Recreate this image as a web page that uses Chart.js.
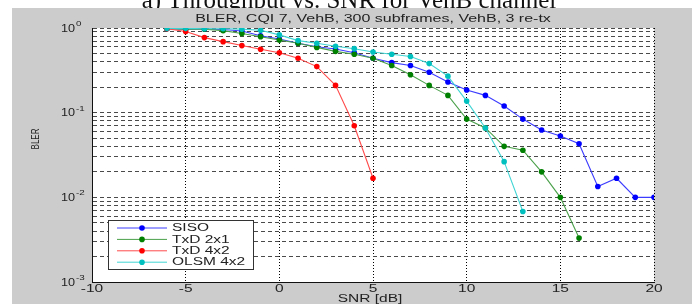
<!DOCTYPE html>
<html>
<head>
<meta charset="utf-8">
<script src="https://cdn.jsdelivr.net/npm/chart.js@4.4.1/dist/chart.umd.min.js"></script>
<style>
  html, body { margin: 0; padding: 0; background: #fff; }
  #blerChart { display: block; }
</style>
</head>
<body>
<canvas id="blerChart" width="699" height="304"></canvas>
<script>
// data
const pageCaption = 'a) Throughput vs. SNR for VehB channel';
const plotTitle = 'BLER, CQI 7, VehB, 300 subframes, VehB, 3 re-tx';
const xTitle = 'SNR [dB]';
const yTitle = 'BLER';

const seriesNames = ['SISO', 'TxD 2x1', 'TxD 4x2', 'OLSM 4x2'];

const snrSiso = [-6, -5, -4, -3, -2, -1, 0, 1, 2, 3, 4, 5, 6, 7, 8, 9, 10, 11, 12, 13, 14, 15, 16, 17, 18, 19, 20];
const blerSiso = [0.98, 0.97, 0.97, 0.96, 0.92, 0.81, 0.74, 0.66, 0.60, 0.565, 0.51, 0.44, 0.39, 0.36, 0.30, 0.23, 0.185, 0.16, 0.12, 0.084, 0.0625, 0.053, 0.043, 0.0134, 0.0168, 0.010, 0.010];

const snrTxd2 = [-6, -5, -4, -3, -2, -1, 0, 1, 2, 3, 4, 5, 6, 7, 8, 9, 10, 11, 12, 13, 14, 15, 16];
const blerTxd2 = [0.98, 0.97, 0.97, 0.93, 0.86, 0.79, 0.72, 0.66, 0.59, 0.53, 0.49, 0.44, 0.36, 0.28, 0.21, 0.16, 0.084, 0.066, 0.040, 0.036, 0.020, 0.010, 0.0033];

const snrTxd4 = [-6, -5, -4, -3, -2, -1, 0, 1, 2, 3, 4, 5];
const blerTxd4 = [0.98, 0.91, 0.77, 0.69, 0.62, 0.56, 0.51, 0.44, 0.35, 0.21, 0.07, 0.0168];

const snrOlsm = [-6, -5, -4, -3, -2, -1, 0, 1, 2, 3, 4, 5, 6, 7, 8, 9, 10, 11, 12, 13];
const blerOlsm = [0.99, 0.99, 0.98, 0.98, 0.97, 0.94, 0.83, 0.71, 0.66, 0.61, 0.57, 0.52, 0.49, 0.46, 0.38, 0.27, 0.137, 0.066, 0.0264, 0.0068];

const xTicks = [-10, -5, 0, 5, 10, 15, 20];
const yMajorTicks = [1, 0.1, 0.01, 0.001];
const yMajorExps = ['0', '-1', '-2', '-3'];
const yMinorSteps = [2, 3, 4, 5, 6, 7, 8, 9];

const markerColors = ['#0000ff', '#008000', '#ff0000', '#00bfbf'];
const lineColors = ['#3c3cff', '#4aa04a', '#ff4a4a', '#40d4d4'];

const toPoints = (xs, ys) => xs.map((x, i) => ({ x: x, y: ys[i] }));

const allSeries = [
    toPoints(snrSiso, blerSiso),
    toPoints(snrTxd2, blerTxd2),
    toPoints(snrTxd4, blerTxd4),
    toPoints(snrOlsm, blerOlsm)
];

// y grid: every 1..9 x 10^k
const yGridValues = [];
yMajorTicks.forEach(m => {
    yGridValues.push(m);
    if (m < 1) yMinorSteps.forEach(s => yGridValues.push(m * s));
});

const stretchText = (ctx, txt, x, y, sx, align) => {
    ctx.save();
    ctx.translate(x, y);
    ctx.scale(sx, 1);
    ctx.textAlign = align;
    ctx.fillText(txt, 0, 0);
    ctx.restore();
};

const figurePlugin = {
    id: 'figure',
    beforeDraw(chart) {
        const ctx = chart.ctx;
        const a = chart.chartArea;
        ctx.save();
        ctx.fillStyle = '#fff';
        ctx.fillRect(0, 0, chart.width, chart.height);
        // caption of the page, mostly hidden behind the figure
        ctx.fillStyle = '#111';
        ctx.font = '25px "Liberation Serif"';
        ctx.textAlign = 'center';
        ctx.textBaseline = 'alphabetic';
        ctx.fillText(pageCaption, 349, 8);
        ctx.fillStyle = '#cccccc';
        ctx.fillRect(12, 8, 680, chart.height - 8);
        ctx.fillStyle = '#fff';
        ctx.fillRect(a.left, a.top, a.right - a.left, a.bottom - a.top);
        ctx.restore();
    },
    afterDraw(chart) {
        const ctx = chart.ctx;
        const a = chart.chartArea;
        const xs = chart.scales.x;
        const ys = chart.scales.y;
        ctx.save();

        // solid left and bottom axes
        ctx.strokeStyle = '#111';
        ctx.lineWidth = 1;
        ctx.setLineDash([]);
        ctx.beginPath();
        ctx.moveTo(Math.round(a.left) + 0.5, a.top);
        ctx.lineTo(Math.round(a.left) + 0.5, Math.round(a.bottom) + 0.5);
        ctx.lineTo(a.right + 0.5, Math.round(a.bottom) + 0.5);
        ctx.stroke();

        ctx.fillStyle = '#222';
        ctx.textBaseline = 'middle';

        ctx.font = '10px "Liberation Sans"';
        stretchText(ctx, plotTitle, (a.left + a.right) / 2, 19, 1.6, 'center');

        xTicks.forEach(v => {
            stretchText(ctx, String(v), xs.getPixelForValue(v), 289, 1.55, 'center');
        });
        stretchText(ctx, xTitle, 370, 299, 1.55, 'center');

        yMajorTicks.forEach((v, i) => {
            const py = ys.getPixelForValue(v);
            ctx.font = '11px "Liberation Sans"';
            stretchText(ctx, '10', 75, py + 0.5, 1.15, 'right');
            ctx.font = '7px "Liberation Sans"';
            stretchText(ctx, yMajorExps[i], 76, py - 4, 1.4, 'left');
        });

        ctx.save();
        ctx.translate(36, 139);
        ctx.rotate(-Math.PI / 2);
        ctx.font = '10px "Liberation Sans"';
        stretchText(ctx, yTitle, 0, 0, 0.8, 'center');
        ctx.restore();

        // legend box
        const bx = 108, by = 220, bw = 145, bh = 49;
        ctx.fillStyle = '#fff';
        ctx.fillRect(bx, by, bw, bh);
        ctx.strokeStyle = '#333';
        ctx.lineWidth = 1;
        ctx.strokeRect(bx + 0.5, by + 0.5, bw, bh);
        seriesNames.forEach((name, i) => {
            const ry = 228 + i * 11.4;
            ctx.strokeStyle = lineColors[i];
            ctx.beginPath();
            ctx.moveTo(117, ry);
            ctx.lineTo(167, ry);
            ctx.stroke();
            ctx.fillStyle = markerColors[i];
            ctx.beginPath();
            ctx.arc(142, ry, 2.8, 0, Math.PI * 2);
            ctx.fill();
            ctx.fillStyle = '#222';
            ctx.font = '10px "Liberation Sans"';
            stretchText(ctx, name, 172, ry + 0.5, 1.55, 'left');
        });
        ctx.restore();
    }
};

const ctx = document.getElementById('blerChart').getContext('2d');
new Chart(ctx, {
    type: 'line',
    data: {
        datasets: allSeries.map((pts, i) => ({
            label: seriesNames[i],
            data: pts,
            borderColor: lineColors[i],
            backgroundColor: markerColors[i],
            pointBackgroundColor: markerColors[i],
            pointBorderColor: markerColors[i],
            pointRadius: 2.8,
            pointBorderWidth: 0,
            borderWidth: 1.1,
            tension: 0,
            fill: false,
            order: seriesNames.length - i
        }))
    },
    options: {
        responsive: false,
        animation: false,
        events: [],
        layout: { padding: { left: 0, top: 28, right: 45, bottom: 0 } },
        plugins: {
            legend: { display: false },
            title: { display: false },
            tooltip: { enabled: false }
        },
        scales: {
            x: {
                type: 'linear',
                min: -10,
                max: 20,
                afterBuildTicks: scale => { scale.ticks = xTicks.map(v => ({ value: v })); },
                afterFit: scale => { scale.height = 22; },
                ticks: { display: false },
                grid: { color: '#000', lineWidth: 1, drawTicks: false },
                border: { display: true, color: '#111', width: 1, dash: [1, 2] }
            },
            y: {
                type: 'logarithmic',
                min: 0.001,
                max: 1,
                afterBuildTicks: scale => { scale.ticks = yGridValues.map(v => ({ value: v })); },
                afterFit: scale => { scale.width = 92; },
                ticks: { display: false },
                grid: { color: '#4a4a4a', lineWidth: 1, drawTicks: false },
                border: { display: true, color: '#111', width: 1, dash: [4, 3] }
            }
        }
    },
    plugins: [figurePlugin]
});
</script>
</body>
</html>
